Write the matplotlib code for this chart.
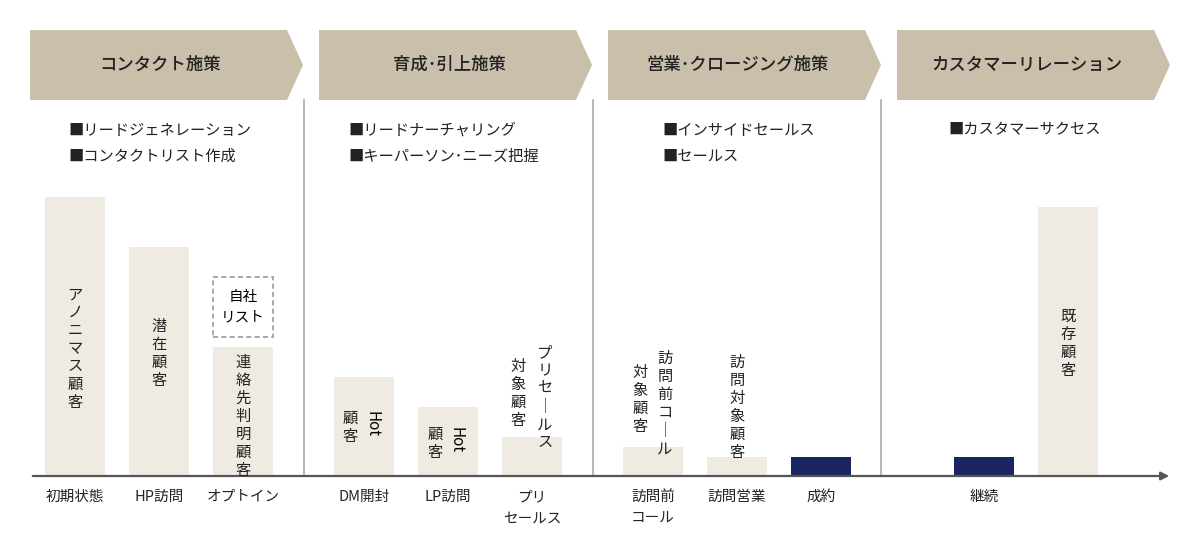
import matplotlib.pyplot as plt
from matplotlib.patches import Polygon, Rectangle

plt.rcParams['font.family'] = ['Noto Sans CJK JP', 'DejaVu Sans']

BASE = 476  # pixel row of the axis line

phases = ['コンタクト施策', '育成･引上施策', '営業･クロージング施策', 'カスタマーリレーション']
phase_left = [30, 319, 608, 897]
phase_items = [['■リードジェネレーション', '■コンタクトリスト作成'],
               ['■リードナーチャリング', '■キーパーソン･ニーズ把握'],
               ['■インサイドセールス', '■セールス'],
               ['■カスタマーサクセス']]
item_x = [68, 348, 662, 948]
dividers = [304, 593, 881]

stages = ['初期状態', 'HP訪問', 'オプトイン', 'DM開封', 'LP訪問', 'プリ\nセールス',
          '訪問前\nコール', '訪問営業', '成約', '継続', '']
stage_x = [75, 159, 243, 364, 448, 532, 653, 737, 821, 984, 1068]
heights = [279, 229, 129, 99, 69, 39, 29, 19, 19, 19, 269]
highlight = [False] * 8 + [True, True, False]

fig = plt.figure(figsize=(12, 5.6), dpi=100)
ax = fig.add_axes([0, 0, 1, 1])
ax.set_xlim(0, 1200)
ax.set_ylim(BASE - 560, BASE)
ax.axis('off')

def py(p):
    return BASE - p

# chevron headers
for name, x0 in zip(phases, phase_left):
    pts = [(x0, py(30)), (x0 + 257, py(30)), (x0 + 273, py(65)),
           (x0 + 257, py(100)), (x0, py(100))]
    ax.add_patch(Polygon(pts, closed=True, color='#c9bfab', lw=0))
    ax.text(x0 + 130, py(65), name, ha='center', va='center', fontsize=12.5,
            weight='medium', color='#222222')

for items, x in zip(phase_items, item_x):
    for i, t in enumerate(items):
        ax.text(x, py(130 + 26 * i), t, ha='left', va='center', fontsize=11, color='#222222')

for x in dividers:
    ax.plot([x, x], [py(100), 0], color='#b0b0b0', lw=1.3)

# bars
colors = ['#1a2460' if h else '#efebe3' for h in highlight]
ax.bar(stage_x, heights, width=60, color=colors, lw=0)

# axis arrow
ax.annotate('', xy=(1172, 0), xytext=(30, 0),
            arrowprops=dict(arrowstyle='-|>', color='#555555', lw=1.6, mutation_scale=12))

for s, x in zip(stages, stage_x):
    ax.text(x, py(490), s, ha='center', va='top', fontsize=10.5, linespacing=1.7, color='#222222')

# dashed box "自社リスト"
ax.add_patch(Rectangle((213, py(337)), 60, 60, fill=False, ls=(0, (3, 2)), ec='#999999', lw=1.2))
ax.text(243, py(307), '自社\nリスト', ha='center', va='center', fontsize=10.5, linespacing=1.6)

def vtext(x, ytop, s):
    s = s.replace('ー', '｜')
    ax.text(x, py(ytop), '\n'.join(s), ha='center', va='top', fontsize=11, linespacing=1.08,
            color='#222222')

vtext(75, 286, 'アノニマス顧客')
vtext(159, 318, '潜在顧客')
vtext(243, 354, '連絡先判明顧客')
vtext(545, 344, 'プリセールス')
vtext(518, 358, '対象顧客')
vtext(665, 350, '訪問前コール')
vtext(640, 364, '対象顧客')
vtext(737, 354, '訪問対象顧客')
vtext(1068, 308, '既存顧客')
vtext(350, 410, '顧客')
vtext(435, 426, '顧客')
ax.text(372, py(424), 'Hot', rotation=-90, ha='center', va='center', fontsize=11)
ax.text(456, py(440), 'Hot', rotation=-90, ha='center', va='center', fontsize=11)

fig.savefig('out.png', dpi=100)
